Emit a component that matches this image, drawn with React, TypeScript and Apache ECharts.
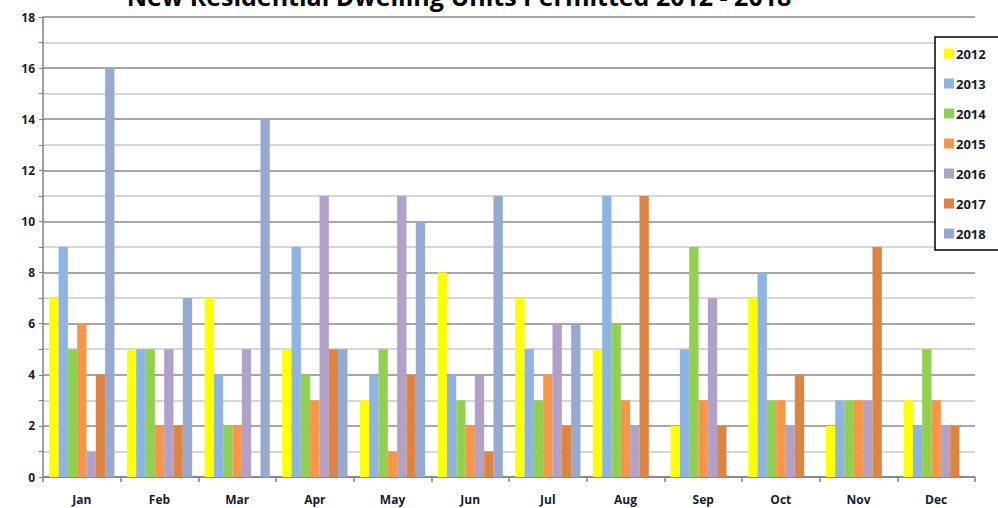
import React, { useEffect, useRef } from "react";
import * as echarts from "echarts";

const months = ["Jan", "Feb", "Mar", "Apr", "May", "Jun", "Jul", "Aug", "Sep", "Oct", "Nov", "Dec"];
const years = ["2012", "2013", "2014", "2015", "2016", "2017", "2018"];
const v2012 = [7, 5, 7, 5, 3, 8, 7, 5, 2, 7, 2, 3];
const v2013 = [9, 5, 4, 9, 4, 4, 5, 11, 5, 8, 3, 2];
const v2014 = [5, 5, 2, 4, 5, 3, 3, 6, 9, 3, 3, 5];
const v2015 = [6, 2, 2, 3, 1, 2, 4, 3, 3, 3, 3, 3];
const v2016 = [1, 5, 5, 11, 11, 4, 6, 2, 7, 2, 3, 2];
const v2017 = [4, 2, 0, 5, 4, 1, 2, 11, 2, 4, 9, 2];
const v2018 = [16, 7, 14, 5, 10, 11, 6, 0, 0, 0, 0, 0];
const seriesValues = [v2012, v2013, v2014, v2015, v2016, v2017, v2018];
const colors = ["#FFFF00", "#8DB4E2", "#92D050", "#F79646", "#B1A0C7", "#DD8440", "#95A9D1"];
const title = "New Residential Dwelling Units Permitted 2012 - 2018";

export default function App() {
  const ref = useRef<HTMLDivElement>(null);
  useEffect(() => {
    if (!ref.current) return;
    const chart = echarts.init(ref.current, null, { renderer: "svg" });
    const font = "Open Sans";
    chart.setOption({
      animation: false,
      backgroundColor: "#ffffff",
      textStyle: { fontFamily: font },
      graphic: [
        {
          type: "text",
          x: 459,
          y: 8,
          style: {
            text: title,
            font: "bold 25px 'Open Sans'",
            fill: "#000",
            textAlign: "center",
            textVerticalAlign: "bottom",
          },
        },
      ],
      grid: { left: 43, right: 23, top: 17, bottom: 31, containLabel: false },
      legend: {
        orient: "vertical",
        left: 935,
        top: 37,
        data: years,
        itemWidth: 10,
        itemHeight: 10,
        itemGap: 17,
        padding: [10, 30, 10, 9],
        borderColor: "#000",
        borderWidth: 1.5,
        backgroundColor: "#fff",
        icon: "rect",
        textStyle: { fontFamily: font, fontWeight: "bold", fontSize: 13, color: "#1a1a2e", padding: [0, 0, 0, -3] },
      },
      xAxis: {
        type: "category",
        data: months,
        axisLine: { lineStyle: { color: "#808080", width: 1.5 } },
        axisTick: { show: true, length: 5, lineStyle: { color: "#808080", width: 1.5 } },
        axisLabel: { fontFamily: font, fontWeight: "bold", fontSize: 12, color: "#1a1a2e", margin: 16 },
        splitLine: { show: false },
      },
      yAxis: {
        type: "value",
        min: 0,
        max: 18,
        interval: 1,
        axisLine: { show: true, lineStyle: { color: "#808080", width: 1.5 } },
        axisTick: { show: true, length: 4, lineStyle: { color: "#808080" } },
        axisLabel: {
          fontFamily: font,
          fontWeight: "bold",
          fontSize: 12,
          color: "#1a1a2e",
          margin: 8,
          formatter: (v: number) => (v % 2 === 0 ? String(v) : ""),
        },
        splitLine: { show: true, lineStyle: { color: ["#8a8a8a", "#c8c8c8"], width: 1.5 } },
      },
      series: years.map((y, i) => ({
        name: y,
        type: "bar",
        data: seriesValues[i],
        itemStyle: { color: colors[i] },
        barGap: "0%",
        barCategoryGap: "16%",
      })),
    });
    return () => chart.dispose();
  }, []);
  return <div ref={ref} style={{ position: "fixed", left: 0, top: 0, width: 998, height: 508 }} />;
}
